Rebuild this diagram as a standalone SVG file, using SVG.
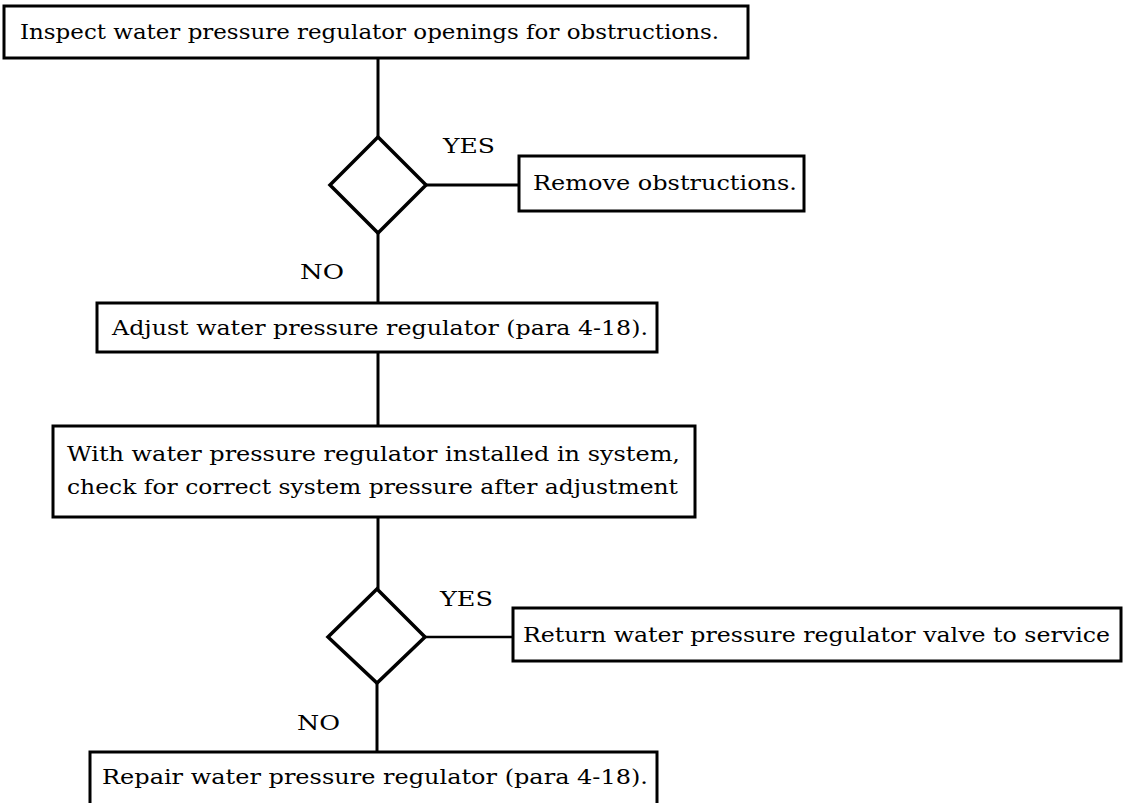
<svg xmlns="http://www.w3.org/2000/svg" width="1126" height="803" viewBox="0 0 1126 803">
<style>
.box{fill:#fff;stroke:#000;stroke-width:3}
.dia{fill:#fff;stroke:#000;stroke-width:3.5;stroke-linejoin:miter}
.ln{stroke:#000;stroke-width:3;fill:none}
.t{font-family:"DejaVu Serif","Liberation Serif",serif;font-size:21px;fill:#000}
</style>
<rect width="1126" height="803" fill="#fff"/>
<g id="connectors">
<line class="ln" x1="378" y1="58" x2="378" y2="137"/>
<line class="ln" x1="378" y1="233" x2="378" y2="303"/>
<line class="ln" x1="426" y1="185" x2="519" y2="185"/>
<line class="ln" x1="378" y1="352" x2="378" y2="426"/>
<line class="ln" x1="378" y1="517" x2="378" y2="589"/>
<line class="ln" x1="377" y1="683" x2="377" y2="752"/>
<line class="ln" x1="425" y1="637" x2="513" y2="637" style="stroke-width:2.5"/>
<text class="t" x="443" y="153" textLength="52" lengthAdjust="spacingAndGlyphs">YES</text>
<text class="t" x="300" y="279" textLength="44" lengthAdjust="spacingAndGlyphs">NO</text>
<text class="t" x="440" y="606" textLength="53" lengthAdjust="spacingAndGlyphs">YES</text>
<text class="t" x="297" y="730" textLength="43" lengthAdjust="spacingAndGlyphs">NO</text>
</g>
<g id="inspect">
<rect class="box" x="4" y="6" width="744" height="52"/>
<text class="t" x="20" y="39" textLength="699" lengthAdjust="spacingAndGlyphs">Inspect water pressure regulator openings for obstructions.</text>
</g>
<g id="decision1">
<polygon class="dia" points="378,137 426,185 378,233 330,185"/>
</g>
<g id="remove">
<rect class="box" x="519" y="156" width="285" height="55"/>
<text class="t" x="533" y="190" textLength="264" lengthAdjust="spacingAndGlyphs">Remove obstructions.</text>
</g>
<g id="adjust">
<rect class="box" x="97" y="303" width="560" height="49"/>
<text class="t" x="112" y="335" textLength="536" lengthAdjust="spacingAndGlyphs">Adjust water pressure regulator (para 4-18).</text>
</g>
<g id="check">
<rect class="box" x="53" y="426" width="642" height="91"/>
<text class="t" x="67" y="461" textLength="613" lengthAdjust="spacingAndGlyphs">With water pressure regulator installed in system,</text>
<text class="t" x="67" y="494" textLength="611" lengthAdjust="spacingAndGlyphs">check for correct system pressure after adjustment</text>
</g>
<g id="decision2">
<polygon class="dia" points="377,589 425,637 377,683 328,637"/>
</g>
<g id="return">
<rect class="box" x="513" y="608" width="608" height="53"/>
<text class="t" x="523" y="642" textLength="587" lengthAdjust="spacingAndGlyphs">Return water pressure regulator valve to service</text>
</g>
<g id="repair">
<rect class="box" x="90" y="752" width="567" height="60"/>
<text class="t" x="102" y="784" textLength="546" lengthAdjust="spacingAndGlyphs">Repair water pressure regulator (para 4-18).</text>
</g>
</svg>
